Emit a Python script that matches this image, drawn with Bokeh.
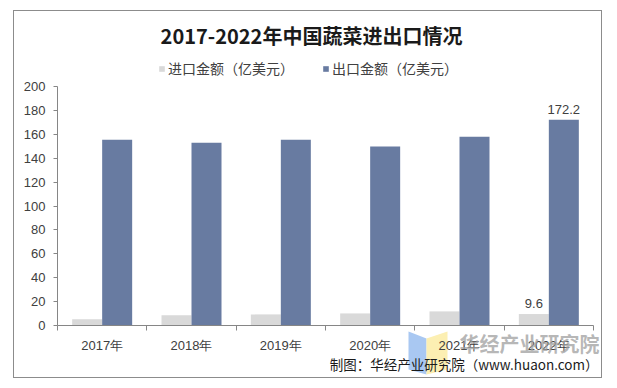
import numpy as np
from bokeh.plotting import figure
from bokeh.core.properties import value
from bokeh.models import (ColumnDataSource, FixedTicker, Label, LabelSet, Legend,
                          LegendItem)
from bokeh.embed import file_html
from bokeh.resources import INLINE

years = ["2017年", "2018年", "2019年", "2020年", "2021年", "2022年"]
imports = [5.2, 8.5, 9.3, 10.1, 11.8, 9.6]
exports = [155.5, 153.0, 155.5, 149.8, 158.0, 172.2]
y_ticks = [0, 20, 40, 60, 80, 100, 120, 140, 160, 180, 200]
title_text = "2017-2022年中国蔬菜进出口情况"
import_name = "进口金额（亿美元）"
export_name = "出口金额（亿美元）"
source_text = "制图：华经产业研究院（www.huaon.com）"
watermark_text = "华经产业研究院"

IMPORT_COLOR = "#d9d9d9"
EXPORT_COLOR = "#687ba1"
TEXT_COLOR = "#404040"
AXIS_COLOR = "#868686"
NUM_FONT = "Liberation Sans"
CJK = "Noto Sans CJK SC"

n = len(years)
y_max = 200

# canvas geometry (px)
CANVAS_W, CANVAS_H = 589, 368
AX_LEFT, AX_BOTTOM = 43, 54          # plot area offset inside canvas
PLOT_W, PLOT_H = 536, 239
ux = PLOT_W / n
uy = PLOT_H / y_max

centers = np.arange(n) + 0.5
bw = 30 / ux

src = ColumnDataSource(dict(
    xi=centers - bw / 2, xe=centers + bw / 2,
    imp=imports, exp=exports,
))

p = figure(width=CANVAS_W, height=CANVAS_H,
           x_range=(-AX_LEFT / ux, (CANVAS_W - AX_LEFT) / ux),
           y_range=(-AX_BOTTOM / uy, (CANVAS_H - AX_BOTTOM) / uy),
           output_backend="svg", toolbar_location=None,
           min_border=0)
p.styles = {"margin-left": "13px", "margin-top": "10px",
            "border": "1px solid #8c8c8c"}
p.outline_line_color = None
p.xgrid.grid_line_color = None
p.ygrid.grid_line_color = None
p.background_fill_color = "white"
p.border_fill_color = "white"

# helpers: reference-picture pixel -> data coords (plot origin at 57, 325)
def dx(X):
    return (X - 57) / ux

def dy(Y):
    return (325 - Y) / uy

# watermark logo (decoration)
p.patches(xs=[[dx(408), dx(426), dx(426), dx(408)],
              [dx(426), dx(447), dx(447), dx(426)]],
          ys=[[dy(331), dy(338), dy(374), dy(369)],
              [dy(338), dy(331), dy(369), dy(374)]],
          fill_color=["#a9c8f2", "#fcefb2"], fill_alpha=1.0,
          line_color=None)

r_imp = p.vbar(x="xi", top="imp", width=bw, source=src,
               fill_color=IMPORT_COLOR, line_color=None)
r_exp = p.vbar(x="xe", top="exp", width=bw, source=src,
               fill_color=EXPORT_COLOR, line_color=None)

# x axis
xa = p.xaxis[0]
xa.fixed_location = 0
xa.bounds = (0, n)
xa.ticker = FixedTicker(ticks=list(centers), minor_ticks=list(range(n + 1)))
xa.major_label_overrides = {float(c): y for c, y in zip(centers, years)}
xa.major_tick_line_color = None
xa.minor_tick_line_color = AXIS_COLOR
xa.minor_tick_out = 5
xa.minor_tick_in = 0
xa.axis_line_color = AXIS_COLOR
xa.major_label_text_font = NUM_FONT
xa.major_label_text_font_size = "13px"
xa.major_label_text_color = TEXT_COLOR
xa.major_label_standoff = 6

ya = p.yaxis[0]
ya.fixed_location = 0
ya.bounds = (0, y_max)
ya.ticker = FixedTicker(ticks=y_ticks)
ya.axis_line_color = AXIS_COLOR
ya.major_tick_line_color = AXIS_COLOR
ya.major_tick_out = 4
ya.major_tick_in = 0
ya.minor_tick_line_color = None
ya.major_label_text_font = NUM_FONT
ya.major_label_text_font_size = "13px"
ya.major_label_text_color = TEXT_COLOR
ya.major_label_standoff = 8

# data labels for last year
last = n - 1
lab_src = ColumnDataSource(dict(
    x=[centers[last] - bw / 2, centers[last] + bw / 2],
    y=[imports[last], exports[last]],
    t=[f"{imports[last]:.1f}", f"{exports[last]:.1f}"],
))
p.add_layout(LabelSet(x="x", y="y", text="t", source=lab_src, y_offset=6,
                      text_align="center", text_baseline="bottom",
                      text_font=value(NUM_FONT), text_font_size=value("13px"),
                      text_color=TEXT_COLOR))

# reference-picture coordinates -> canvas screen units (canvas at 14, 11)
def add_label(text, X, Y, size, align="center", bold=False, color="#000000",
              font=CJK, alpha=1.0):
    p.add_layout(Label(x=X - 14, y=379 - Y, x_units="screen", y_units="screen",
                       text=text, text_align=align, text_baseline="middle",
                       text_font=font, text_font_size=size,
                       text_font_style="bold" if bold else "normal",
                       text_color=color, text_alpha=alpha))

add_label(title_text, 311, 35, "20px", bold=True, color="#1a1a1a")
add_label(watermark_text, 529, 343, "20px", bold=True, color="#a0a0a0",
          alpha=0.75)
add_label(source_text, 598, 363, "13.5px", align="right", color="#1a1a1a")

legend = Legend(items=[LegendItem(label=import_name, renderers=[r_imp]),
                       LegendItem(label=export_name, renderers=[r_exp])],
                orientation="horizontal", location=(158 - 14, 379 - 78),
                glyph_width=7, glyph_height=7, label_standoff=3,
                spacing=28, padding=0, margin=0,
                label_text_font=CJK, label_text_font_size="14px",
                label_text_color=TEXT_COLOR,
                background_fill_alpha=0, border_line_color=None)
p.add_layout(legend, "center")

open("out.html", "w").write(file_html(p, INLINE))
